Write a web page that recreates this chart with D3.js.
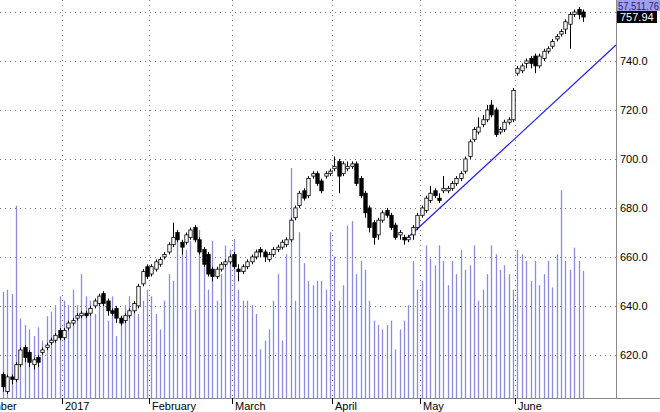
<!DOCTYPE html>
<html>
<head>
<meta charset="utf-8">
<script src="https://cdn.jsdelivr.net/npm/d3@7"></script>
<style>
  body { margin: 0; background: #fff; }
  text { font-family: "Liberation Sans", Arial, sans-serif; font-size: 11px; }
</style>
</head>
<body>
<svg id="chart" width="660" height="412"></svg>
<script>
// month names and trading days per month (first index of each month gets a tick)
const months = ["December", "2017", "February", "March", "April", "May", "June"];
const monthDays = [14, 20, 19, 23, 20, 22, 16];

const open = [
  612,605,611,610,616,623,621,616,619,621,623,625,626,630,
  627,631,633,635,636,637,637,640,641,645,642,638,639,635,634,636,638,640,649,656,
  653,655,657,660,662,665,670,666,666,668,672,667,663,661,655,652,655,657,658,
  661,655,654,656,658,660,663,662,659,661,663,664,665,667,676,681,687,685,693,694,691,693,694,
  696,699,694,696,697,698,692,686,680,674,669,675,679,677,673,669,668,667,669,672,
  677,679,683,687,684,687,687,688,690,692,695,701,708,711,714,716,722,720,711,712,715,716,
  735,736,739,741,742,738,741,744,746,749,751,753,755,759,761,760
];
const high = [
  613,612,612,617,623,624,622,619,620,623,625,627,629,631,
  631,634,635,637,638,638,640,643,645,646,643,639,640,636,637,639,642,649,655,657,
  657,659,660,662,666,674,671,667,670,672,673,668,664,662,656,656,658,659,661,
  662,657,657,659,661,663,664,663,662,664,665,667,668,676,681,687,688,693,695,695,692,695,696,
  701,700,699,699,699,699,693,687,681,675,676,679,680,678,674,671,669,669,673,678,
  681,685,689,688,686,693,689,691,693,695,701,708,713,717,718,722,724,721,713,716,717,729,
  738,739,741,742,743,743,745,746,749,751,753,757,760,761,762,761
];
const low = [
  605,604,608,609,615,617,615,614,615,620,622,624,625,626,
  626,630,632,634,635,635,636,639,640,640,636,636,633,632,633,635,637,639,648,651,
  652,654,656,659,661,664,666,661,665,667,666,661,656,652,650,651,654,656,657,
  655,650,653,655,657,659,660,658,658,660,662,663,664,666,675,680,683,684,692,689,686,692,693,
  695,686,693,695,696,689,684,676,670,665,667,674,676,671,667,667,665,666,667,671,
  676,678,682,684,682,686,686,687,689,691,694,700,707,710,713,715,717,709,710,711,714,715,
  734,735,737,737,735,737,740,743,745,748,750,751,745,758,757,756
];
const close = [
  607,611,610,616,622,619,617,618,617,622,624,626,628,627,
  630,633,634,636,637,636,639,642,644,641,638,637,635,633,636,638,641,648,654,652,
  656,658,659,661,665,668,667,664,669,671,667,662,657,653,652,655,657,658,660,
  656,654,656,658,660,662,662,660,661,663,664,666,667,675,680,686,684,692,694,690,687,694,695,
  697,693,698,697,698,690,685,678,672,668,675,678,677,672,668,670,667,668,672,677,
  680,684,686,685,683,688,688,690,692,694,700,707,712,713,716,720,718,710,712,715,716,728,
  737,738,740,739,738,742,744,745,748,750,752,756,759,760,759,757.94
];
// volume in thousands
const volume = [
  48,49,47,87,36,33,31,28,32,26,37,39,42,46,
  44,42,49,42,56,46,44,38,43,44,35,46,28,37,42,46,42,38,44,49,
  46,38,31,44,56,53,71,71,67,71,40,76,65,49,71,44,56,69,67,
  72,49,44,44,42,38,22,26,31,44,56,26,65,104,44,75,61,53,51,53,53,49,75,
  64,44,51,78,80,56,62,58,44,35,33,31,33,35,22,31,35,42,62,49,
  53,69,63,60,69,62,51,62,56,67,58,60,69,44,49,56,69,65,58,60,56,49,
  67,65,62,53,62,51,56,62,50,65,94,62,58,68,62,57.51176
];
// trend line: [bar index, price]
const trend = [[92, 666.5], [140.6, 746.5]];
const priceTicks = [620, 640, 660, 680, 700, 720, 740, 760];

const svg = d3.select("#chart");
const plotW = 616, plotH = 398;

const x = d3.scaleLinear().domain([0, 1]).range([3, 7.36]);
const y = d3.scaleLinear().domain([602.4, 760]).range([plotH, 12]);
const yv = d3.scaleLinear().domain([0, 180]).range([plotH, 0]);

// month start indexes
const monthStart = [];
monthDays.reduce((acc, d) => { monthStart.push(acc); return acc + d; }, 0);

// grid
svg.append("g").selectAll("line").data(priceTicks).join("line")
  .attr("x1", 0).attr("x2", plotW)
  .attr("y1", d => Math.round(y(d)) + 0.5).attr("y2", d => Math.round(y(d)) + 0.5)
  .attr("stroke", "#777").attr("stroke-dasharray", "1,4");
svg.append("g").selectAll("line").data(monthStart.slice(1)).join("line")
  .attr("x1", d => Math.round(x(d) - 2) + 0.5).attr("x2", d => Math.round(x(d) - 2) + 0.5)
  .attr("y1", 0).attr("y2", plotH)
  .attr("stroke", "#777").attr("stroke-dasharray", "1,4");

// volume
svg.append("g").selectAll("line").data(volume).join("line")
  .attr("x1", (d, i) => Math.round(x(i)) + 0.5).attr("x2", (d, i) => Math.round(x(i)) + 0.5)
  .attr("y1", plotH).attr("y2", d => yv(d))
  .attr("stroke", "#8c8cdc").attr("stroke-width", 1.3);

// trend line
svg.append("line")
  .attr("x1", x(trend[0][0])).attr("y1", y(trend[0][1]))
  .attr("x2", x(trend[1][0])).attr("y2", y(trend[1][1]))
  .attr("stroke", "#2020e0").attr("stroke-width", 1.2);

// candles
const cg = svg.append("g");
close.forEach((c, i) => {
  const cx = Math.round(x(i)) + 0.5;
  const o = open[i], up = c >= o;
  cg.append("line").attr("x1", cx).attr("x2", cx)
    .attr("y1", y(high[i])).attr("y2", y(low[i])).attr("stroke", "#000");
  const top = y(Math.max(o, c)), bot = y(Math.min(o, c));
  cg.append("rect").attr("x", cx - 1.7).attr("width", 3.4)
    .attr("y", top).attr("height", Math.max(1, bot - top))
    .attr("fill", up ? "#fff" : "#000").attr("stroke", "#000").attr("stroke-width", 0.8);
});

// frame lines
svg.append("line").attr("x1", plotW + 0.5).attr("x2", plotW + 0.5).attr("y1", 0).attr("y2", plotH)
  .attr("stroke", "#888");
svg.append("line").attr("x1", 0).attr("x2", 660).attr("y1", plotH + 0.5).attr("y2", plotH + 0.5)
  .attr("stroke", "#888");

// right axis labels
svg.append("g").selectAll("text").data(priceTicks.slice(0, 7)).join("text")
  .attr("x", 620).attr("y", d => y(d) + 4).text(d => d.toFixed(1));

// last value tags
svg.append("rect").attr("x", 617).attr("y", 0).attr("width", 43).attr("height", 11).attr("fill", "#a0a0e8");
svg.append("text").attr("x", 618).attr("y", 9.5).attr("fill", "#202080")
  .style("font-size", "10px").attr("textLength", 41).attr("lengthAdjust", "spacingAndGlyphs")
  .text(d3.format(",.2f")(volume[volume.length - 1] * 1000));
svg.append("rect").attr("x", 617).attr("y", 11).attr("width", 40).attr("height", 12).attr("fill", "#000");
svg.append("text").attr("x", 620).attr("y", 21).attr("fill", "#fff")
  .text(close[close.length - 1].toFixed(2));

// bottom axis
const mg = svg.append("g");
monthStart.forEach((s, k) => {
  const mx = k === 0 ? -37 : Math.round(x(s) - 2);
  mg.append("line").attr("x1", mx + 0.5).attr("x2", mx + 0.5).attr("y1", plotH).attr("y2", plotH + 6).attr("stroke", "#000");
  mg.append("text").attr("x", mx + 3).attr("y", 410).text(months[k]);
});
</script>
</body>
</html>
